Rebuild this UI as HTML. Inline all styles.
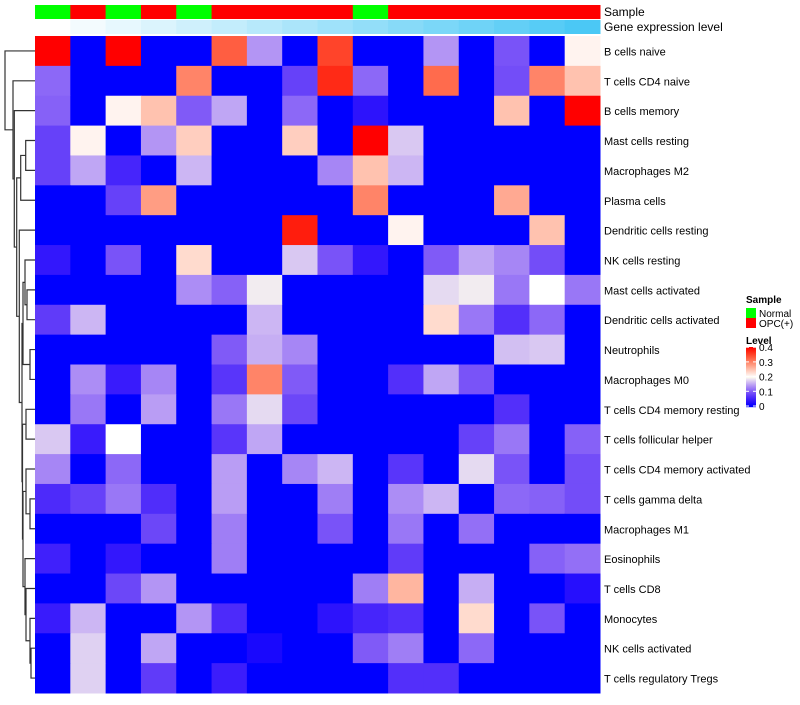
<!DOCTYPE html>
<html><head><meta charset="utf-8"><style>
body{margin:0;background:#fff;font-family:"Liberation Sans",sans-serif;}
svg text{font-family:"Liberation Sans",sans-serif;}
</style></head><body>
<svg id="c" width="800" height="700"></svg>
<script>
const rows=["B cells naive","T cells CD4 naive","B cells memory","Mast cells resting","Macrophages M2","Plasma cells","Dendritic cells resting","NK cells resting","Mast cells activated","Dendritic cells activated","Neutrophils","Macrophages M0","T cells CD4 memory resting","T cells follicular helper","T cells CD4 memory activated","T cells gamma delta","Macrophages M1","Eosinophils","T cells CD8","Monocytes","NK cells activated","T cells regulatory  Tregs"];
const sampleGroups=["Normal","OPC","Normal","OPC","Normal","OPC","OPC","OPC","OPC","Normal","OPC","OPC","OPC","OPC","OPC","OPC"];
const geneLevel=[0,1,2,3,4,5,6,7,8,9,10,11,12,13,14,15];
const values=[
[0.4,0,0.4,0,0,0.33,0.14,0,0.35,0,0,0.14,0,0.095,0,0.21],
[0.11,0,0,0,0.3,0,0,0.08,0.37,0.11,0,0.32,0,0.09,0.3,0.25],
[0.105,0,0.21,0.25,0.1,0.15,0,0.11,0,0.035,0,0,0,0.25,0,0.4],
[0.08,0.21,0,0.14,0.24,0,0,0.24,0,0.4,0.17,0,0,0,0,0],
[0.08,0.15,0.055,0,0.16,0,0,0,0.13,0.25,0.16,0,0,0,0,0],
[0,0,0.08,0.28,0,0,0,0,0,0.3,0,0,0,0.27,0,0],
[0,0,0,0,0,0,0,0.38,0,0,0.21,0,0,0,0.25,0],
[0.04,0,0.095,0,0.23,0,0,0.17,0.095,0.04,0,0.1,0.15,0.13,0.09,0],
[0,0,0,0,0.135,0.105,0.19,0,0,0,0,0.18,0.19,0.12,0.2,0.12],
[0.075,0.16,0,0,0,0,0.16,0,0,0,0,0.23,0.12,0.065,0.11,0],
[0,0,0,0,0,0.1,0.155,0.13,0,0,0,0,0,0.165,0.17,0],
[0,0.135,0.045,0.13,0,0.07,0.3,0.1,0,0,0.065,0.15,0.095,0,0,0],
[0,0.12,0,0.145,0,0.12,0.18,0.085,0,0,0,0,0,0.065,0,0],
[0.17,0.045,0.2,0,0,0.07,0.15,0,0,0,0,0,0.08,0.12,0,0.105],
[0.13,0,0.11,0,0,0.145,0,0.13,0.16,0,0.07,0,0.18,0.095,0,0.09],
[0.06,0.08,0.12,0.063,0,0.145,0,0,0.125,0,0.135,0.16,0,0.11,0.105,0.09],
[0,0,0,0.085,0,0.125,0,0,0.095,0,0.12,0,0.115,0,0,0],
[0.05,0,0.04,0,0,0.125,0,0,0,0,0.075,0,0,0,0.105,0.115],
[0,0,0.085,0.14,0,0,0,0,0,0.125,0.26,0,0.155,0,0,0.03],
[0.045,0.16,0,0,0.14,0.06,0,0,0.035,0.055,0.065,0,0.23,0,0.095,0],
[0,0.175,0,0.15,0,0,0.02,0,0,0.1,0.125,0,0.11,0,0,0],
[0,0.175,0,0.075,0,0.047,0,0,0,0,0.065,0.065,0,0,0,0]];
const legendTicks=["0","0.1","0.2","0.3","0.4"];

const NS="http://www.w3.org/2000/svg";
const svg=document.getElementById('c');
function mk(t,a,p){const e=document.createElementNS(NS,t);for(const k in a)e.setAttribute(k,a[k]);(p||svg).appendChild(e);return e;}
const X0=35,X1=600,Y0=36,Y1=693;
const cw=(X1-X0)/sampleGroups.length, rh=(Y1-Y0)/rows.length;
const xPos=i=>X0+i*cw, yPos=i=>Y0+i*rh;
function col(v){v=Math.max(0,Math.min(0.4,v));let r,g,b;
 if(v<0.2){const t=v/0.2;r=Math.round(255*t);g=Math.round(255*Math.pow(t,1.5));b=Math.round(255*(1-0.06*t));}
 else{const s=(0.4-v)/0.2;r=255;g=Math.round(255*Math.pow(s,0.95));b=Math.round(255*Math.pow(s,1.3));}
 return `rgb(${r},${g},${b})`;}
function blueLvl(l){const t=l/(geneLevel.length-1);
 return `rgb(${Math.round(255-t*(255-75))},${Math.round(255-t*(255-200))},${Math.round(255-t*(255-245))})`;}
sampleGroups.forEach((s,i)=>{
 const r=mk('rect',{x:xPos(i),y:5,width:cw+0.5,height:14,fill:s==="Normal"?"#00FF00":"#FF0000"});
 
 
});
geneLevel.forEach((l,i)=>{
 const r=mk('rect',{x:xPos(i),y:20,width:cw+0.5,height:14,fill:blueLvl(l)});
 
 
});
let t=mk('text',{x:604,y:16,"font-size":12});t.textContent="Sample";

t=mk('text',{x:604,y:31,"font-size":12});t.textContent="Gene expression level";

values.forEach((row,ri)=>row.forEach((v,ci)=>{
 const r=mk('rect',{x:xPos(ci),y:yPos(ri),width:cw+0.5,height:rh+0.5,fill:col(v)});
 
 
}));
rows.forEach((n,i)=>{
 const e=mk('text',{x:604,y:yPos(i)+rh/2+4.5,"font-size":11});e.textContent=n;
 
 
});
const tree=[0,[1,[2,[[[3,4,25.7],5,20.7],[6,[[[7,[8,9,27],25],[10,11,30],23],[[12,13,26],[[14,[15,16,30],26],[17,[18,[19,[20,21,31],30],26],25],23],22.5],22],19.3],16.7],14.3],13],5];
const g=mk('g',{stroke:"#333","stroke-width":1.2,fill:"none"});

function draw(n){if(typeof n==="number")return {x:X0,y:yPos(n)+rh/2};
 const a=draw(n[0]),b=draw(n[1]),h=n[2];
 mk('path',{d:`M${a.x},${a.y}H${h}V${b.y}H${b.x}`},g);return {x:h,y:(a.y+b.y)/2};}
draw(tree);
const L=mk('g',{});
t=mk('text',{x:746,y:303,"font-size":10,"font-weight":"bold"},L);t.textContent="Sample";
[["Normal","#00FF00"],["OPC(+)","#FF0000"]].forEach((d,i)=>{
 const r=mk('rect',{x:746,y:308+i*10,width:10,height:10,fill:d[1]},L);
 
 const e=mk('text',{x:759,y:317+i*10,"font-size":10},L);e.textContent=d[0];
 
});
t=mk('text',{x:746,y:344,"font-size":10,"font-weight":"bold"},L);t.textContent="Level";
for(let k=0;k<60;k++){mk('rect',{x:746,y:347+k,width:10,height:1.2,fill:col(0.4-0.4*k/59)},L);}
legendTicks.forEach((s,i)=>{const yy=406-i*14.7;
 mk('line',{x1:746,x2:749,y1:yy,y2:yy,stroke:"#fff"},L);mk('line',{x1:753,x2:756,y1:yy,y2:yy,stroke:"#fff"},L);
 const e=mk('text',{x:759,y:yy+4,"font-size":10},L);e.textContent=s;
 });
</script></body></html>
